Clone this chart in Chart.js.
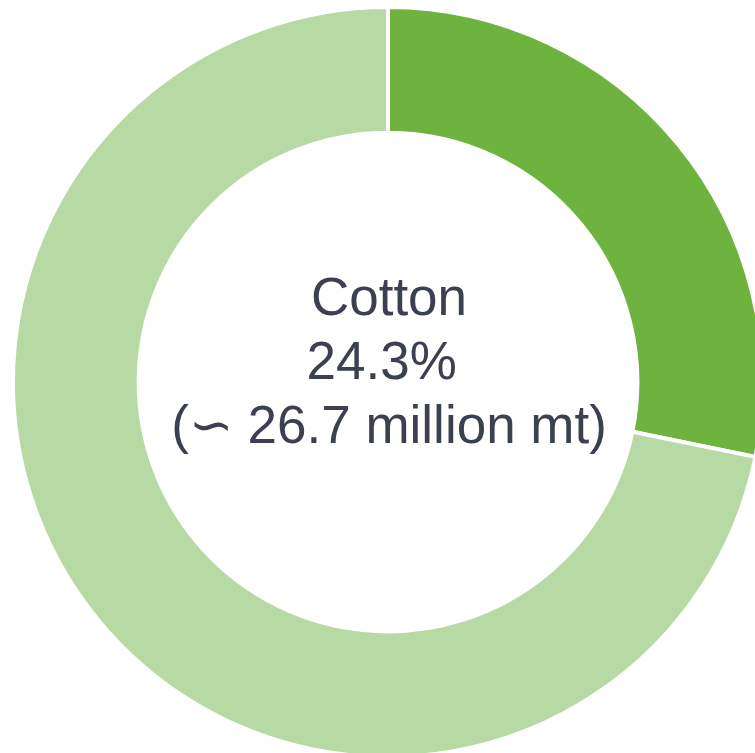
<!DOCTYPE html>
<html>
<head>
<meta charset="utf-8">
<script src="https://cdn.jsdelivr.net/npm/chart.js@4"></script>
<style>
  html, body { margin: 0; padding: 0; background: #fff; overflow: hidden; width: 755px; height: 753px; }
  #wrap { position: absolute; left: 11px; top: 5px; width: 754px; height: 754px; }
</style>
</head>
<body>
<div id="wrap"><canvas id="doughnutChart"></canvas></div>
<script>
// Doughnut chart - cotton share

var labels = ['Cotton', 'Other fibres'];
var values = [28.2, 71.8];
var colors = ['#6fb33f', '#b7d9a3'];
var centerLines = ['Cotton', '24.3% ', '(\u223D 26.7 million mt)'];

var centerText = {
    id: 'centerText',
    afterDraw: function (chart) {
        var arc = chart.getDatasetMeta(0).data[0];
        var ctx = chart.ctx;
        ctx.save();
        ctx.fillStyle = '#3b4150';
        ctx.font = '53px "Liberation Sans", Arial, sans-serif';
        ctx.textAlign = 'center';
        ctx.textBaseline = 'alphabetic';
        var offsets = [-67, -3, 61];
        centerLines.forEach(function (line, i) {
            ctx.fillText(line, arc.x + 1, arc.y + offsets[i]);
        });
        ctx.restore();
    }
};

var ctx = document.getElementById('doughnutChart').getContext('2d');
var myChart = new Chart(ctx, {
    type: 'doughnut',
    data: {
        labels: labels,
        datasets: [{
            data: values,
            backgroundColor: colors,
            borderColor: '#ffffff',
            borderWidth: 4
        }]
    },
    options: {
        maintainAspectRatio: false,
        responsive: true,
        animation: false,
        cutout: '66.5%',
        plugins: {
            legend: { display: false },
            tooltip: { enabled: false }
        }
    },
    plugins: [centerText]
});
</script>
</body>
</html>
